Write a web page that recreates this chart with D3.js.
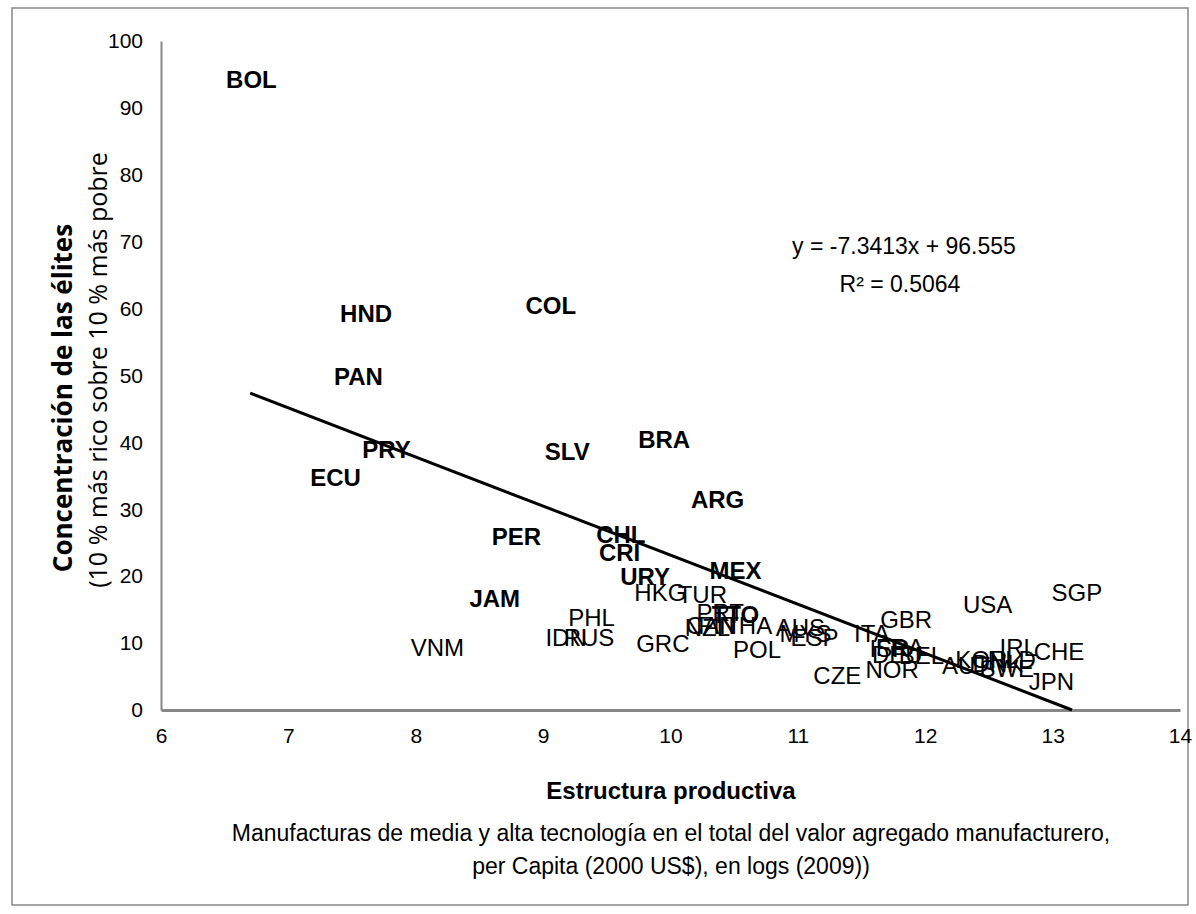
<!DOCTYPE html>
<html><head><meta charset="utf-8">
<script src="https://cdn.jsdelivr.net/npm/d3@7"></script>
<style>body{margin:0;background:#fff;} svg{display:block;}</style>
</head><body>
<svg id="chart" width="1196" height="914"></svg>
<script>
const countries = ["BOL","HND","COL","PAN","PRY","ECU","SLV","BRA","ARG","PER","CHL","CRI","URY","MEX","JAM","TTO",
  "VNM","PHL","IDN","RUS","GRC","HKG","TUR","PRT","CAN","NZL","FIN","THA","AUS","MYS","ESP","POL","CZE","ITA","GBR","USA","SGP",
  "CHE","IRL","JPN","KOR","AUT","NOR","ISR","FRA","DEU","BEL","DNK","SWE","NLD"];
const xValues = [6.71,7.61,9.06,7.55,7.77,7.37,9.19,9.95,10.37,8.79,9.61,9.60,9.80,10.51,8.62,10.51,
  8.17,9.38,9.18,9.36,9.94,9.92,10.25,10.39,10.32,10.29,10.37,10.61,11.02,11.06,11.13,10.68,11.31,11.58,11.85,12.49,13.19,
  13.05,12.73,12.99,12.44,12.32,11.74,11.72,11.80,11.78,11.97,12.57,12.64,12.68];
const yValues = [94.2,59.3,60.4,49.8,38.9,34.8,38.6,40.5,31.5,26.0,26.2,23.5,19.9,20.9,16.7,14.3,
  9.4,13.9,10.8,10.8,10.0,17.5,17.3,14.6,12.7,12.3,12.6,12.6,12.4,11.5,10.8,9.0,5.1,11.5,13.6,15.8,17.6,
  8.7,9.4,4.3,7.6,6.7,6.1,9.2,9.4,8.3,8.1,7.0,6.2,7.6];
const boldFlags = [1,1,1,1,1,1,1,1,1,1,1,1,1,1,1,1,
  0,0,0,0,0,0,0,0,0,0,0,0,0,0,0,0,0,0,0,0,0,0,0,0,0,0,0,0,0,0,0,0,0,0];
const xTicks = [6,7,8,9,10,11,12,13,14];
const yTicks = [0,10,20,30,40,50,60,70,80,90,100];
const slope = -7.3413, intercept = 96.555, r2 = "0.5064";
const trendStart = 6.7;

const svg = d3.select("#chart");
const narrow = "'Liberation Sans Narrow', 'Arial Narrow', sans-serif";
const wide = "'Open Sans', 'Noto Sans', sans-serif";

svg.append("rect").attr("x",12).attr("y",8).attr("width",1176).attr("height",897)
  .attr("fill","none").attr("stroke","#888").attr("stroke-width",1.5);

const x = d3.scaleLinear().domain([6,14]).range([161,1180]);
const y = d3.scaleLinear().domain([0,100]).range([710,41]);

// axes
const xAxis = svg.append("g").attr("transform","translate(0,710)")
  .call(d3.axisBottom(x).tickValues(xTicks).tickSize(0).tickPadding(18).tickFormat(d3.format("d")));
xAxis.select(".domain").attr("stroke","#888").attr("stroke-width",3);
xAxis.selectAll("text").attr("font-family",narrow).attr("font-size",21).attr("fill","#000");

const yAxis = svg.append("g").attr("transform","translate(161,0)")
  .call(d3.axisLeft(y).tickValues(yTicks).tickSize(0).tickPadding(18).tickFormat(d3.format("d")));
yAxis.select(".domain").attr("stroke","#888").attr("stroke-width",2);
yAxis.selectAll("text").attr("font-family",narrow).attr("font-size",21).attr("fill","#000");

// trend line
const xEnd = Math.min(13.3, -intercept/slope);
svg.append("line")
  .attr("x1",x(trendStart)).attr("y1",y(slope*trendStart+intercept))
  .attr("x2",x(xEnd)).attr("y2",y(Math.max(0,slope*xEnd+intercept)))
  .attr("stroke","#000").attr("stroke-width",3);

// labels
const data = countries.map((c,i)=>({c, x:xValues[i], y:yValues[i], b:boldFlags[i]}));
svg.append("g").selectAll("text").data(data).join("text")
  .attr("x",d=>x(d.x)).attr("y",d=>y(d.y))
  .attr("text-anchor","middle").attr("dominant-baseline","central")
  .attr("font-family",narrow).attr("font-size",24)
  .attr("font-weight",d=>d.b?"bold":"normal")
  .text(d=>d.c);

// equation
svg.append("text").attr("x",904).attr("y",246).attr("text-anchor","middle").attr("dominant-baseline","central")
  .attr("font-family",narrow).attr("font-size",23).text(`y = ${slope}x + ${intercept}`);
svg.append("text").attr("x",900).attr("y",284).attr("text-anchor","middle").attr("dominant-baseline","central")
  .attr("font-family",narrow).attr("font-size",23).text(`R² = ${r2}`);

// axis titles
svg.append("text").attr("x",671).attr("y",790).attr("text-anchor","middle").attr("dominant-baseline","central")
  .attr("font-family",narrow).attr("font-size",24).attr("font-weight","bold").text("Estructura productiva");
svg.append("text").attr("x",671).attr("y",833).attr("text-anchor","middle").attr("dominant-baseline","central")
  .attr("font-family",narrow).attr("font-size",23).text("Manufacturas de media y alta tecnología en el total del valor agregado manufacturero,");
svg.append("text").attr("x",671).attr("y",866).attr("text-anchor","middle").attr("dominant-baseline","central")
  .attr("font-family",narrow).attr("font-size",23).text("per Capita (2000 US$), en logs (2009))");

svg.append("text").attr("transform","translate(62,398) rotate(-90)").attr("text-anchor","middle").attr("dominant-baseline","central")
  .attr("font-family",wide).attr("font-size",26).attr("font-weight","bold").text("Concentración de las élites");
svg.append("text").attr("transform","translate(97,370) rotate(-90)").attr("text-anchor","middle").attr("dominant-baseline","central")
  .attr("font-family",wide).attr("font-size",25).text("(10 % más rico sobre 10 % más pobre");
</script>
</body></html>
